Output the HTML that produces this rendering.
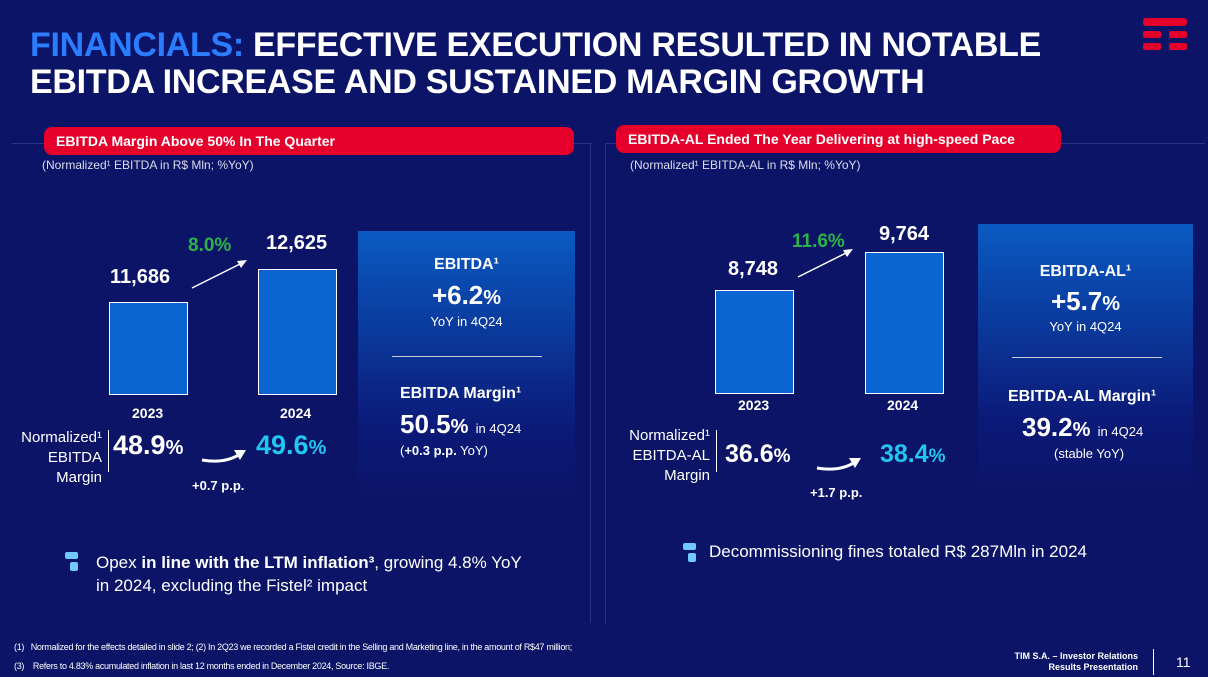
<!DOCTYPE html>
<html><head><meta charset="utf-8"><style>
*{margin:0;padding:0;box-sizing:border-box}
body{width:1208px;height:677px;background:#0b1466;font-family:"Liberation Sans",sans-serif;color:#fff;position:relative;overflow:hidden}
.a{position:absolute;white-space:nowrap}
.t{font-weight:bold;font-size:34px;line-height:37px;left:30px;top:27px;letter-spacing:-0.3px}
.pill{background:#e4002b;border-radius:8px;height:28px;font-weight:bold;font-size:14px;line-height:28px;padding-left:12px}
.bar{background:#0a64d2;border:1px solid #fff}
.box{background:linear-gradient(#0a5ac2,#0b1a78 70%,#0b1466)}
.b{font-weight:bold}
.c{text-align:center}
</style></head><body>
<div class="a t"><span style="color:#2b7dff">FINANCIALS:</span> EFFECTIVE EXECUTION RESULTED IN NOTABLE<br>EBITDA INCREASE AND SUSTAINED MARGIN GROWTH</div>
<div class="a" style="left:1143px;top:18px;width:44px;height:8px;background:#e4002b;border-radius:3px"></div>
<div class="a" style="left:1143px;top:31px;width:18px;height:7px;background:#e4002b;border-radius:2px"></div>
<div class="a" style="left:1169px;top:31px;width:18px;height:7px;background:#e4002b;border-radius:2px"></div>
<div class="a" style="left:1143px;top:43px;width:18px;height:7px;background:#e4002b;border-radius:2px"></div>
<div class="a" style="left:1169px;top:43px;width:18px;height:7px;background:#e4002b;border-radius:2px"></div>
<div class="a" style="left:12px;top:143px;width:580px;height:1px;background:#2a3480"></div>
<div class="a" style="left:590px;top:143px;width:1px;height:480px;background:#2a3480"></div>
<div class="a" style="left:605px;top:143px;width:600px;height:1px;background:#2a3480"></div>
<div class="a" style="left:605px;top:143px;width:1px;height:480px;background:#2a3480"></div>
<div class="a pill" style="left:44px;top:127px;width:530px">EBITDA Margin Above 50% In The Quarter</div>
<div class="a pill" style="left:616px;top:125px;width:445px">EBITDA-AL Ended The Year Delivering at high-speed Pace</div>
<div class="a" style="left:42px;top:158px;font-size:12px;color:#dde">(Normalized¹ EBITDA in R$ Mln; %YoY)</div>
<div class="a" style="left:630px;top:158px;font-size:12px;color:#dde">(Normalized¹ EBITDA-AL in R$ Mln; %YoY)</div>
<div class="a bar" style="left:109px;top:302px;width:79px;height:93px"></div>
<div class="a bar" style="left:258px;top:269px;width:79px;height:126px"></div>
<div class="a b" style="left:110px;top:266px;font-size:20px">11,686</div>
<div class="a b" style="left:266px;top:232px;font-size:20px">12,625</div>
<div class="a b" style="left:188px;top:235px;font-size:19px;color:#2bb34a">8.0%</div>
<svg class="a" style="left:190px;top:255px" width="60" height="36"><line x1="2" y1="33" x2="52" y2="8" stroke="#fff" stroke-width="1.5"/><polygon points="57,5 47,6 51,13" fill="#fff"/></svg>
<div class="a b" style="left:132px;top:405px;font-size:14px">2023</div>
<div class="a b" style="left:280px;top:405px;font-size:14px">2024</div>
<div class="a" style="left:14px;top:428px;font-size:15px;line-height:20px;text-align:right;width:88px">Normalized¹<br>EBITDA<br>Margin</div>
<div class="a" style="left:108px;top:430px;width:1px;height:42px;background:#fff"></div>
<div class="a b" style="left:113px;top:430px;font-size:27px">48.9<span style="font-size:20px">%</span></div>
<div class="a b" style="left:256px;top:430px;font-size:27px;color:#22c6f0">49.6<span style="font-size:20px">%</span></div>
<svg class="a" style="left:200px;top:444px" width="50" height="24"><path d="M2 16 Q25 20 40 10" stroke="#fff" stroke-width="3" fill="none"/><polygon points="46,6 34,6 40,16" fill="#fff"/></svg>
<div class="a b" style="left:192px;top:478px;font-size:13px">+0.7 p.p.</div>
<div class="a box" style="left:358px;top:231px;width:217px;height:280px"></div>
<div class="a c" style="left:358px;top:256px;width:217px;font-size:16px;font-weight:bold">EBITDA¹</div>
<div class="a c" style="left:358px;top:280px;width:217px;font-size:26px;font-weight:bold">+6.2<span style="font-size:20px">%</span></div>
<div class="a c" style="left:358px;top:314px;width:217px;font-size:13px">YoY in 4Q24</div>
<div class="a" style="left:392px;top:356px;width:150px;height:1px;background:#ccd"></div>
<div class="a" style="left:400px;top:385px;font-size:16px;font-weight:bold">EBITDA Margin¹</div>
<div class="a" style="left:400px;top:409px;font-size:26px;font-weight:bold">50.5<span style="font-size:20px">%</span> <span style="font-size:13px;font-weight:normal">in 4Q24</span></div>
<div class="a" style="left:400px;top:443px;font-size:13px">(<b>+0.3 p.p.</b> YoY)</div>
<div class="a bar" style="left:715px;top:290px;width:79px;height:104px"></div>
<div class="a bar" style="left:865px;top:252px;width:79px;height:142px"></div>
<div class="a b" style="left:728px;top:258px;font-size:20px">8,748</div>
<div class="a b" style="left:879px;top:223px;font-size:20px">9,764</div>
<div class="a b" style="left:792px;top:231px;font-size:19px;color:#2bb34a">11.6%</div>
<svg class="a" style="left:796px;top:244px" width="60" height="36"><line x1="2" y1="33" x2="52" y2="8" stroke="#fff" stroke-width="1.5"/><polygon points="57,5 47,6 51,13" fill="#fff"/></svg>
<div class="a b" style="left:738px;top:397px;font-size:14px">2023</div>
<div class="a b" style="left:887px;top:397px;font-size:14px">2024</div>
<div class="a" style="left:610px;top:426px;font-size:15px;line-height:20px;text-align:right;width:100px">Normalized¹<br>EBITDA-AL<br>Margin</div>
<div class="a" style="left:716px;top:430px;width:1px;height:42px;background:#fff"></div>
<div class="a b" style="left:725px;top:440px;font-size:25px">36.6<span style="font-size:19px">%</span></div>
<div class="a b" style="left:880px;top:440px;font-size:25px;color:#22c6f0">38.4<span style="font-size:19px">%</span></div>
<svg class="a" style="left:815px;top:452px" width="50" height="24"><path d="M2 16 Q25 20 40 10" stroke="#fff" stroke-width="3" fill="none"/><polygon points="46,6 34,6 40,16" fill="#fff"/></svg>
<div class="a b" style="left:810px;top:485px;font-size:13px">+1.7 p.p.</div>
<div class="a box" style="left:978px;top:224px;width:215px;height:280px"></div>
<div class="a c" style="left:978px;top:263px;width:215px;font-size:16px;font-weight:bold">EBITDA-AL¹</div>
<div class="a c" style="left:978px;top:286px;width:215px;font-size:26px;font-weight:bold">+5.7<span style="font-size:20px">%</span></div>
<div class="a c" style="left:978px;top:319px;width:215px;font-size:13px">YoY in 4Q24</div>
<div class="a" style="left:1012px;top:357px;width:150px;height:1px;background:#ccd"></div>
<div class="a" style="left:1008px;top:388px;font-size:16px;font-weight:bold">EBITDA-AL Margin¹</div>
<div class="a" style="left:1022px;top:412px;font-size:26px;font-weight:bold">39.2<span style="font-size:20px">%</span> <span style="font-size:13px;font-weight:normal">in 4Q24</span></div>
<div class="a" style="left:1054px;top:446px;font-size:13px">(stable YoY)</div>
<div class="a" style="left:65px;top:552px;width:13px;height:7px;background:#6fc8ff;border-radius:2px"></div>
<div class="a" style="left:70px;top:562px;width:8px;height:9px;background:#6fc8ff;border-radius:2px"></div>
<div class="a" style="left:96px;top:551px;font-size:17px;line-height:23px">Opex <b>in line with the LTM inflation³</b>, growing 4.8% YoY<br>in 2024, excluding the Fistel² impact</div>
<div class="a" style="left:683px;top:543px;width:13px;height:7px;background:#6fc8ff;border-radius:2px"></div>
<div class="a" style="left:688px;top:553px;width:8px;height:9px;background:#6fc8ff;border-radius:2px"></div>
<div class="a" style="left:709px;top:542px;font-size:17px">Decommissioning fines totaled R$ 287Mln in 2024</div>
<div class="a" style="left:14px;top:642px;font-size:9px;letter-spacing:-0.3px">(1)&nbsp;&nbsp;&nbsp;Normalized for the effects detailed in slide 2; (2) In 2Q23 we recorded a Fistel credit in the Selling and Marketing line, in the amount of R$47 million;</div>
<div class="a" style="left:14px;top:661px;font-size:9px;letter-spacing:-0.3px">(3)&nbsp;&nbsp;&nbsp;&nbsp;Refers to 4.83% acumulated inflation in last 12 months ended in December 2024, Source: IBGE.</div>
<div class="a" style="left:1000px;top:651px;width:138px;text-align:right;font-size:9px;line-height:11px;font-weight:bold">TIM S.A. – Investor Relations<br>Results Presentation</div>
<div class="a" style="left:1153px;top:649px;width:1px;height:26px;background:#fff"></div>
<div class="a" style="left:1176px;top:654px;font-size:14px">11</div>
</body></html>
